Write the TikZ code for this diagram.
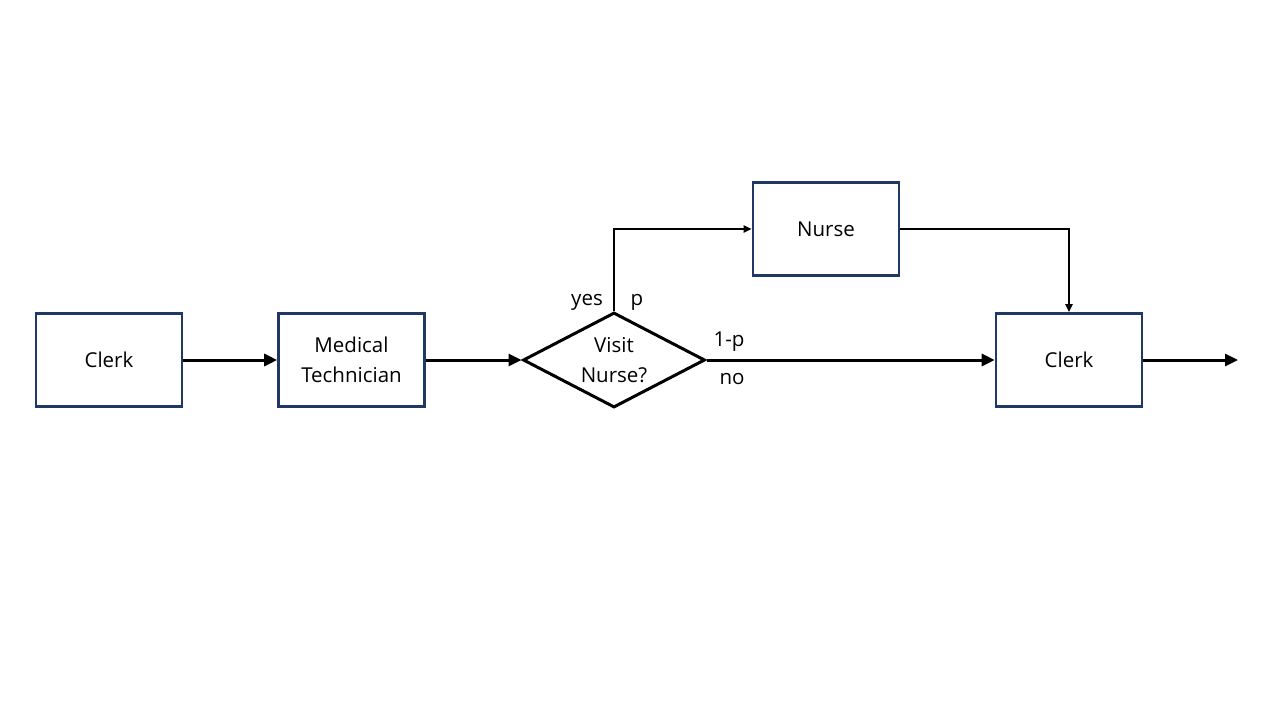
\documentclass[tikz,border=0pt]{standalone}
\usepackage{fontspec}
\setmainfont{Open Sans}
\usetikzlibrary{shapes.geometric,arrows.meta}
\definecolor{boxblue}{HTML}{1F3864}
\tikzset{
  procbox/.style={draw=boxblue, line width=2.6pt, minimum width=146pt, minimum height=93pt, inner sep=0pt, align=center, font=\fontsize{20.5}{30}\selectfont},
  flow/.style={line width=3pt, -{Triangle[length=13pt,width=12pt]}},
  thinflow/.style={line width=2.4pt, -{Triangle[length=8pt,width=7pt]}},
  lbl/.style={font=\fontsize{20.5}{30}\selectfont, inner sep=0pt},
}
\begin{document}
\begin{tikzpicture}[x=1pt,y=-1pt]
\useasboundingbox (0,0) rectangle (1280,720);
\fill[white] (0,0) rectangle (1280,720);
\node[procbox] (c1) at (109,360) {Clerk};
\node[procbox] (mt) at (351.5,360) {Medical\\Technician};
\node[draw=black, line width=3pt, diamond, minimum width=182pt, minimum height=95pt, inner sep=0pt, shape aspect=1.9] (d) at (614,360) {};
\node[lbl, align=center] (dt) at (614,360) {Visit\\Nurse?};
\node[procbox] (n) at (826,229) {Nurse};
\node[procbox] (c2) at (1069,360) {Clerk};
\coordinate (out) at (1238,360);
\draw[flow] (c1.east) -- (mt.west);
\draw[flow] (mt.east) -- (d.west);
\draw[flow] (d.east) -- (c2.west);
\draw[flow] (c2.east) -- (out);
\draw[thinflow] (d.north) |- (n.west);
\draw[thinflow] (n.east) -| (c2.north);
\node[lbl] (yes) at (587,302) {yes};
\node[lbl] (p) at (637,302) {p};
\node[lbl] (onep) at (729,342) {1-p};
\node[lbl] (no) at (732,379) {no};
\end{tikzpicture}
\end{document}
